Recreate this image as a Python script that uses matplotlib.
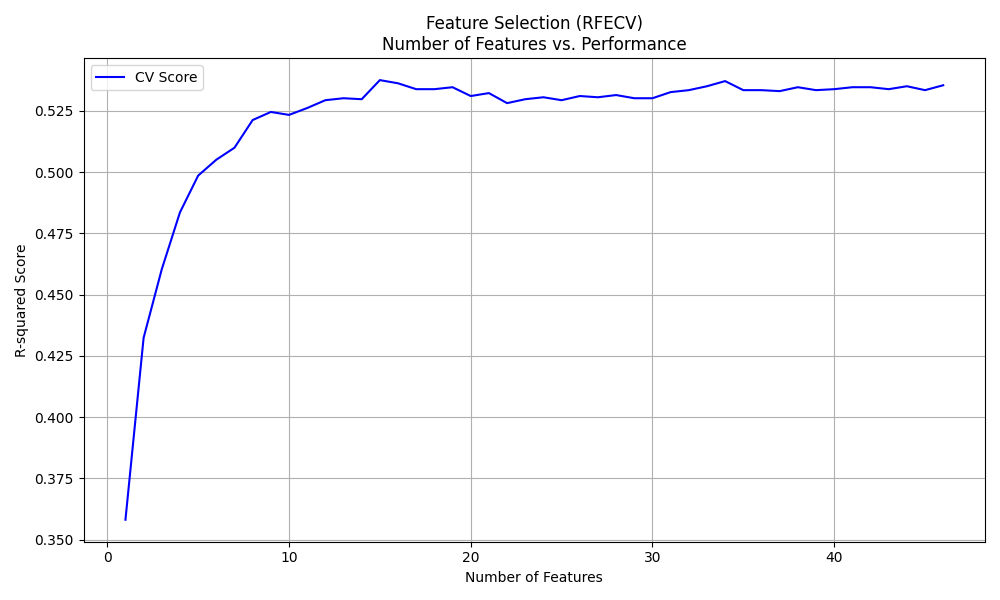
import matplotlib
matplotlib.use("Agg")
import matplotlib.pyplot as plt

n_features = list(range(1, 47))
cv_score = [
    0.3581, 0.4324, 0.4604, 0.4836, 0.4986, 0.5051, 0.5100, 0.5213, 0.5246, 0.5234,
    0.5262, 0.5294, 0.5302, 0.5298, 0.5376, 0.5363, 0.5339, 0.5339, 0.5347, 0.5311,
    0.5323, 0.5282, 0.5298, 0.5306, 0.5294, 0.5311, 0.5306, 0.5315, 0.5302, 0.5302,
    0.5327, 0.5335, 0.5351, 0.5372, 0.5335, 0.5335, 0.5331, 0.5347, 0.5335, 0.5339,
    0.5347, 0.5347, 0.5339, 0.5351, 0.5335, 0.5355,
]

fig = plt.figure(figsize=(10, 6))
ax = fig.add_subplot()
ax.plot(n_features, cv_score, "b-", label="CV Score")
ax.set_xlim(-1.3, 48.3)
ax.set_title("Feature Selection (RFECV)\nNumber of Features vs. Performance")
ax.set_xlabel("Number of Features")
ax.set_ylabel("R-squared Score")
ax.legend(loc="upper left")
ax.grid(True)
fig.tight_layout()
fig.savefig("out.png", dpi=100)
